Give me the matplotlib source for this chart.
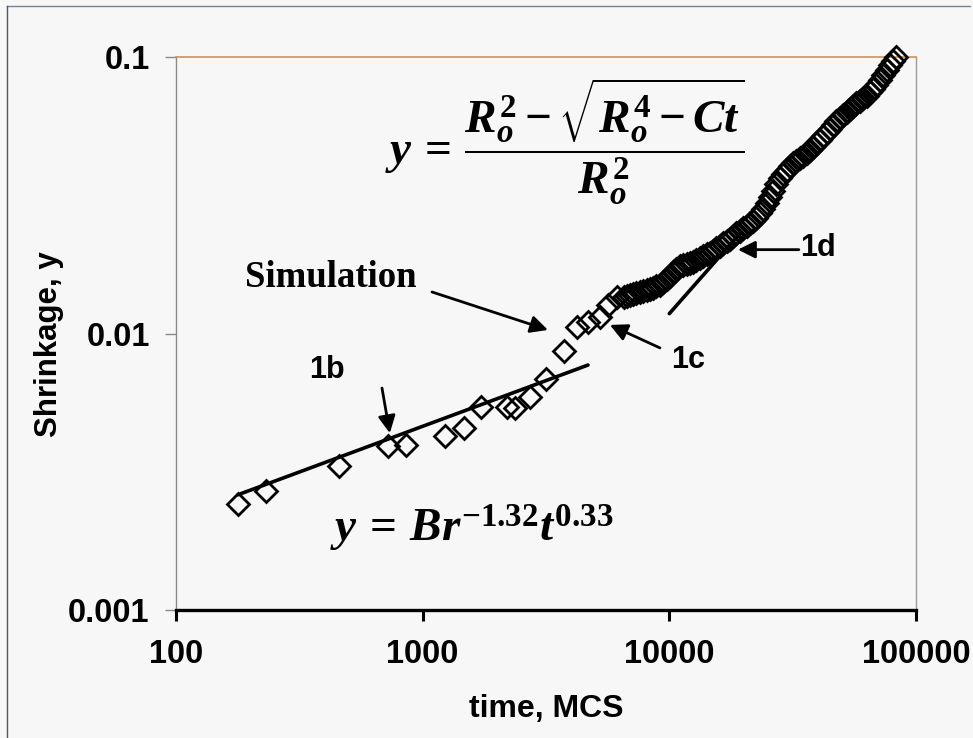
import numpy as np
import matplotlib
matplotlib.use("Agg")
import matplotlib.pyplot as plt
from matplotlib.lines import Line2D

plt.rcParams['font.family'] = ['Liberation Sans', 'DejaVu Sans']
plt.rcParams['font.weight'] = 'bold'
plt.rcParams['mathtext.fontset'] = 'custom'
plt.rcParams['mathtext.it'] = 'Liberation Serif:bold:italic'
plt.rcParams['mathtext.rm'] = 'Liberation Serif:bold'
plt.rcParams['mathtext.bf'] = 'Liberation Serif:bold'

# simulation: shrinkage vs time (MCS)
sim_t = [178, 232, 458, 722, 855, 1230, 1470, 1723, 2197, 2366, 2722, 3160, 3740,
         4220, 4680, 5240, 5640, 6135, 6520, 6731, 6920, 7118, 7350, 7600, 7850,
         8114, 8340, 8581, 8870, 9160, 9460, 9779, 10050, 10340, 10680, 11040,
         11400, 11786, 12120, 12463, 12880, 13305, 13750, 14204, 14600, 15020,
         15520, 16036, 16570, 17120, 17600, 18104, 18700, 19328, 19960, 20636,
         21220, 21823, 22550, 23299, 24070, 24874, 25560, 26304, 27180, 28082,
         29010, 29982, 30820, 31706, 32760, 33849, 34960, 36137, 37150, 38215,
         39480, 40799, 42150, 43557, 44790, 46061, 47600, 49176, 50820, 52500,
         53960, 55519, 57380, 59273, 61240, 63280, 65040, 66918, 69120, 71442,
         73780, 76208, 78400, 80650, 82900]
sim_y = [0.00242, 0.00269, 0.00331, 0.00391, 0.00395, 0.00426, 0.00455, 0.00542,
         0.00542, 0.00538, 0.00589, 0.00684, 0.00865, 0.01057, 0.0110, 0.01148,
         0.01268, 0.01355, 0.0136, 0.01366, 0.0138, 0.01389, 0.0140, 0.01413,
         0.0142, 0.01436, 0.0145, 0.01461, 0.0148, 0.01498, 0.0153, 0.01574,
         0.0162, 0.01669, 0.0171, 0.01754, 0.0177, 0.01784, 0.0180, 0.01814,
         0.0184, 0.01875, 0.0190, 0.01939, 0.0196, 0.01988, 0.0203, 0.02073,
         0.0212, 0.02161, 0.0220, 0.02253, 0.0230, 0.02349, 0.0240, 0.02449,
         0.0250, 0.02553, 0.0262, 0.0272, 0.0283, 0.0297, 0.0312, 0.0328,
         0.0346, 0.03651, 0.0378, 0.03902, 0.0402, 0.04136, 0.0422, 0.04312,
         0.0440, 0.04496, 0.0461, 0.04726, 0.0487, 0.05009, 0.0518, 0.05356,
         0.0551, 0.05677, 0.0585, 0.06017, 0.0617, 0.06325, 0.0648, 0.0665,
         0.0679, 0.06933, 0.0708, 0.07228, 0.0744, 0.07662, 0.0794, 0.08257,
         0.0861, 0.08974, 0.0932, 0.09672, 0.1000]

# fitted lines
fit_b_t = [178, 4680]
fit_b_y = [0.00261, 0.00769]
fit_d_t = [10000, 19500]
fit_d_y = [0.0118, 0.0232]

xticks = [100, 1000, 10000, 100000]
xticklabels = ["100", "1000", "10000", "100000"]
yticks = [0.001, 0.01, 0.1]
yticklabels = ["0.001", "0.01", "0.1"]

bg = "#f7f7f7"
fig = plt.figure(figsize=(9.73, 7.38), dpi=100, facecolor=bg)
ax = fig.add_axes([0.1809, 0.1734, 0.7605, 0.7494], facecolor=bg)

ax.plot(fit_b_t, fit_b_y, color="black", lw=2.6, solid_capstyle="round", zorder=3)
ax.plot(fit_d_t, fit_d_y, color="black", lw=2.6, solid_capstyle="round", zorder=3)
ax.plot(sim_t, sim_y, linestyle="none", marker="D", ms=11.5, mfc="none",
        mec="black", mew=2.0, zorder=4, clip_on=False)

ax.set_xscale("log")
ax.set_yscale("log")
ax.set_xlim(100, 100000)
ax.set_ylim(0.001, 0.1)
ax.set_xticks(xticks)
ax.set_xticklabels(xticklabels)
ax.set_yticks(yticks)
ax.set_yticklabels(yticklabels)
ax.minorticks_off()
ax.tick_params(axis="x", direction="out", length=8, width=2.2, color="black",
               labelsize=23.5, pad=13)
ax.tick_params(axis="y", direction="out", length=8, width=1, color="#8a8a8a",
               labelsize=23.5, pad=11)

ax.spines["left"].set_color("#8a8a8a")
ax.spines["left"].set_linewidth(1)
ax.spines["right"].set_color("#9a9a9a")
ax.spines["right"].set_linewidth(1)
ax.spines["top"].set_color("#cf925c")
ax.spines["top"].set_linewidth(1.2)
ax.spines["bottom"].set_color("black")
ax.spines["bottom"].set_linewidth(2.4)

ax.set_xlabel("time, MCS", fontsize=23, fontweight="bold")
ax.set_ylabel("Shrinkage, y", fontsize=22.5, fontweight="bold")
ax.xaxis.set_label_coords(0.5, -0.152)
ax.yaxis.set_label_coords(-0.151, 0.48)

arrow = dict(arrowstyle="-|>", mutation_scale=26, lw=2, color="black",
             shrinkA=0, shrinkB=0)

ax.text(190, 0.0159, "Simulation", fontsize=26.5, fontweight="bold",
        family="Liberation Serif", ha="left", va="center")
ax.annotate("", xy=(3221, 0.0103), xytext=(1091, 0.01413), arrowprops=arrow)

ax.text(409, 0.00738, "1b", fontsize=22, fontweight="bold", ha="center", va="center")
ax.annotate("", xy=(736, 0.00436), xytext=(684, 0.00635), arrowprops=arrow)

ax.text(11890, 0.00802, "1c", fontsize=22, fontweight="bold", ha="center", va="center")
ax.annotate("", xy=(5740, 0.01074), xytext=(9160, 0.00887), arrowprops=arrow)

ax.text(33800, 0.0204, "1d", fontsize=22, fontweight="bold", ha="left", va="center")
ax.annotate("", xy=(18970, 0.0201), xytext=(33500, 0.0201), arrowprops=arrow)

ax.text(0.526, 0.846, r"$y\,=\,\dfrac{R_o^2-\sqrt{R_o^4-Ct}}{R_o^2}$", fontsize=34,
        transform=ax.transAxes, ha="center", va="center")
ax.text(0.399, 0.148, r"$y\,=\,Br^{-1.32}t^{0.33}$", fontsize=34,
        transform=ax.transAxes, ha="center", va="center")

# frame around the figure
fig.add_artist(Line2D([7 / 973, 970 / 973], [1 - 6 / 738, 1 - 6 / 738],
                      transform=fig.transFigure, color="#6f8595", lw=1))
fig.add_artist(Line2D([7 / 973, 7 / 973], [0, 1 - 6 / 738],
                      transform=fig.transFigure, color="#555555", lw=1))

fig.savefig("out.png", dpi=100, facecolor=bg)
